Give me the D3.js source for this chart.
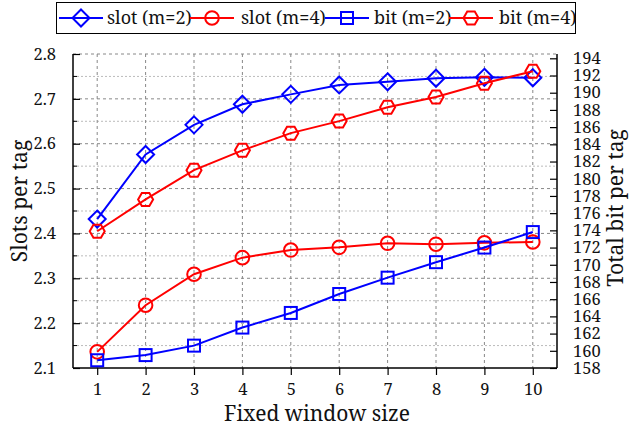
<!DOCTYPE html>
<html>
<head>
<meta charset="utf-8">
<script src="https://cdn.jsdelivr.net/npm/d3@7"></script>
<style>
  html, body { margin: 0; padding: 0; background: #fff; }
  svg { display: block; }
</style>
</head>
<body>
<svg id="chart" width="630" height="428"></svg>
<script>
// Fixed window sizes on the x axis
const windowSizes = [1, 2, 3, 4, 5, 6, 7, 8, 9, 10];

// Slots per tag (left axis)
const slotM2 = [2.432, 2.576, 2.642, 2.688, 2.710, 2.731, 2.738, 2.746, 2.748, 2.747];
const slotM4 = [2.136, 2.240, 2.309, 2.346, 2.363, 2.369, 2.378, 2.376, 2.379, 2.381];

// Total bits per tag (right axis)
const bitM2 = [158.9, 159.5, 160.6, 162.7, 164.4, 166.6, 168.5, 170.3, 172.0, 173.8];
const bitM4 = [173.9, 177.6, 181.0, 183.3, 185.3, 186.7, 188.3, 189.5, 191.1, 192.5];

// Tick values
const leftTicks = [2.1, 2.2, 2.3, 2.4, 2.5, 2.6, 2.7, 2.8];
const leftMinorTicks = [2.15, 2.25, 2.35, 2.45, 2.55, 2.65, 2.75];
const rightTicks = d3.range(158, 195, 2);

const seriesNames = ["slot (m=2)", "slot (m=4)", "bit (m=2)", "bit (m=4)"];

const FONT = "Noto Serif, DejaVu Serif, serif";

const svg = d3.select("#chart").attr("font-family", FONT);
const m = { left: 73, right: 557, top: 54, bottom: 368 };

const x = d3.scaleLinear().domain([0.5, 10.5]).range([m.left, m.right]);
const yL = d3.scaleLinear().domain([2.1, 2.8]).range([m.bottom, m.top]);
const yR = d3.scaleLinear().domain([158, 194.5]).range([m.bottom, m.top]);

// Grid: dotted minor lines, dashed major lines
const grid = svg.append("g");
grid.selectAll(".minor").data(leftMinorTicks).join("line")
  .attr("x1", m.left).attr("x2", m.right)
  .attr("y1", d => yL(d)).attr("y2", d => yL(d))
  .attr("stroke", "#bbb").attr("stroke-width", 1).attr("stroke-dasharray", "2,2");
grid.selectAll(".major").data(leftTicks.slice(1)).join("line")
  .attr("x1", m.left).attr("x2", m.right)
  .attr("y1", d => yL(d)).attr("y2", d => yL(d))
  .attr("stroke", "#888").attr("stroke-width", 1).attr("stroke-dasharray", "3,3");
grid.selectAll(".vert").data(windowSizes).join("line")
  .attr("x1", d => x(d)).attr("x2", d => x(d))
  .attr("y1", m.top).attr("y2", m.bottom)
  .attr("stroke", "#888").attr("stroke-width", 1).attr("stroke-dasharray", "3,3");

// Axes
const axL = svg.append("g").attr("transform", `translate(${m.left},0)`)
  .call(d3.axisLeft(yL).tickValues(leftTicks).tickSize(-7).tickPadding(17).tickFormat(d3.format(".1f")));
axL.append("g").selectAll("line").data(leftMinorTicks).join("line")
  .attr("x1", 0).attr("x2", 4).attr("y1", d => yL(d)).attr("y2", d => yL(d))
  .attr("stroke", "#000");
const axR = svg.append("g").attr("transform", `translate(${m.right},0)`)
  .call(d3.axisRight(yR).tickValues(rightTicks).tickSize(-7).tickPadding(16));
const axB = svg.append("g").attr("transform", `translate(0,${m.bottom})`)
  .call(d3.axisBottom(x).tickValues(windowSizes).tickSize(7).tickPadding(8));

[axL, axR, axB].forEach(a => {
  a.attr("font-family", FONT).attr("font-size", 16.5);
  a.select(".domain").attr("stroke", "#000").attr("stroke-width", 1.5);
  a.selectAll(".tick line").attr("stroke", "#000").attr("stroke-width", 1.2);
  a.selectAll(".tick text").attr("fill", "#111");
});
axL.select(".domain").attr("d", `M0,${m.bottom}V${m.top}`);
axR.select(".domain").attr("d", `M0,${m.bottom}V${m.top}`);
axB.select(".domain").attr("d", `M${m.left},0H${m.right}`);

// Axis titles
svg.append("text").attr("transform", `translate(27,${(m.top + m.bottom) / 2 - 10}) rotate(-90)`)
  .attr("text-anchor", "middle").attr("font-size", 21).attr("fill", "#111").text("Slots per tag");
svg.append("text").attr("transform", `translate(623,${(m.top + m.bottom) / 2 - 3}) rotate(-90)`)
  .attr("text-anchor", "middle").attr("font-size", 21).attr("fill", "#111").text("Total bit per tag");
svg.append("text").attr("x", 317).attr("y", 421)
  .attr("text-anchor", "middle").attr("font-size", 21).attr("fill", "#111").text("Fixed window size");

// Marker shapes
const hexPath = r => d3.range(6).map(i => {
  const a = i * Math.PI / 3;
  return [r * Math.cos(a), r * Math.sin(a)];
});
const markers = {
  diamond: g => g.append("path").attr("d", "M0,-8.5L8.5,0L0,8.5L-8.5,0Z"),
  circle: g => g.append("circle").attr("r", 6.8),
  square: g => g.append("rect").attr("x", -6).attr("y", -6).attr("width", 12).attr("height", 12),
  hexagon: g => g.append("path").attr("d", "M" + hexPath(7.5).join("L") + "Z")
};

const series = [
  { name: seriesNames[0], values: slotM2, y: yL, color: "#0000ff", marker: "diamond" },
  { name: seriesNames[1], values: slotM4, y: yL, color: "#ff0000", marker: "circle" },
  { name: seriesNames[2], values: bitM2, y: yR, color: "#0000ff", marker: "square" },
  { name: seriesNames[3], values: bitM4, y: yR, color: "#ff0000", marker: "hexagon" }
];

const plot = svg.append("g");
series.forEach(s => {
  const pts = windowSizes.map((w, i) => [w, s.values[i]]);
  plot.append("path").datum(pts)
    .attr("fill", "none").attr("stroke", s.color).attr("stroke-width", 2)
    .attr("d", d3.line().x(d => x(d[0])).y(d => s.y(d[1])));
  pts.forEach(p => {
    const g = plot.append("g").attr("transform", `translate(${x(p[0])},${s.y(p[1])})`)
      .attr("fill", "none").attr("stroke", s.color).attr("stroke-width", 2);
    markers[s.marker](g);
  });
});

// Legend
const legend = svg.append("g");
legend.append("rect").attr("x", 56.5).attr("y", 2.5).attr("width", 519).attr("height", 31)
  .attr("fill", "#fff").attr("stroke", "#000").attr("stroke-width", 1);
const legendItems = [
  { lineX: 59, textX: 107 },
  { lineX: 190, textX: 241 },
  { lineX: 325, textX: 374 },
  { lineX: 449, textX: 499 }
];
series.forEach((s, i) => {
  const it = legendItems[i];
  const ly = 18;
  legend.append("line").attr("x1", it.lineX).attr("x2", it.lineX + 44)
    .attr("y1", ly).attr("y2", ly).attr("stroke", s.color).attr("stroke-width", 2);
  const g = legend.append("g").attr("transform", `translate(${it.lineX + 22},${ly})`)
    .attr("fill", "none").attr("stroke", s.color).attr("stroke-width", 2);
  markers[s.marker](g);
  legend.append("text").attr("x", it.textX).attr("y", ly + 6)
    .attr("font-size", 18).attr("fill", "#111").text(s.name);
});
</script>
</body>
</html>
